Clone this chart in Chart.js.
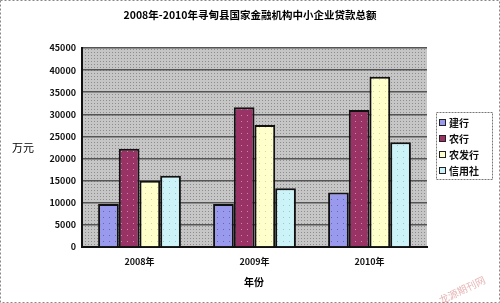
<!DOCTYPE html>
<html>
<head>
<meta charset="utf-8">
<script src="https://cdn.jsdelivr.net/npm/chart.js@4"></script>
<style>
  html, body { margin: 0; padding: 0; background: #fff; }
  #wrap { width: 500px; height: 303px; }
</style>
</head>
<body>
<div id="wrap"><canvas id="chart" width="500" height="303"></canvas></div>
<script>
/* DATA */
const years = ["2008年", "2009年", "2010年"];
const seriesNames = ["建行", "农行", "农发行", "信用社"];
const jianhang = [9700, 9700, 12300];
const nonghang = [22200, 31600, 31000];
const nongfahang = [15000, 27600, 38500];
const xinyongshe = [16100, 13300, 23700];
const yMax = 45000, yStep = 5000;

const titleText = "2008年-2010年寻甸县国家金融机构中小企业贷款总额";
const FONT = "'Noto Sans CJK SC', 'DejaVu Sans', sans-serif";

/* PATTERNS */
function dotPattern(base, dot, step) {
  const c = document.createElement("canvas");
  c.width = step; c.height = step;
  const g = c.getContext("2d");
  g.fillStyle = base;
  g.fillRect(0, 0, step, step);
  g.fillStyle = dot;
  g.fillRect(1, 1, 1, 1);
  return g.createPattern(c, "repeat");
}

const ctx = document.getElementById("chart").getContext("2d");
const colors = ["#9999ee", "#993366", "#ffffcc", "#ccf4f8"];
const dots = ["#6666aa", "#cc88aa", "#d8d8a0", "#9cc8cc"];
const fills = colors.map((c, i) => dotPattern(c, dots[i], 6));
const plotBg = dotPattern("#c6c6c6", "#8c8c8c", 3);

const allValues = [jianhang, nonghang, nongfahang, xinyongshe];

/* PLUGIN: backgrounds, texts, legend */
const decor = {
  id: "decor",
  beforeDraw(chart) {
    const { ctx, chartArea: a } = chart;
    ctx.save();
    ctx.fillStyle = plotBg;
    ctx.fillRect(a.left, a.top, a.right - a.left, a.bottom - a.top);
    ctx.restore();
  },
  afterDraw(chart) {
    const c = chart.ctx;
    c.save();
    // outer dotted border
    c.strokeStyle = "#888";
    c.setLineDash([2, 2]);
    c.lineWidth = 1;
    c.strokeRect(0.5, 0.5, 499, 302);

    // title
    c.setLineDash([]);
    c.fillStyle = "#000";
    c.font = "bold 10.5px " + FONT;
    c.textAlign = "center";
    c.textBaseline = "middle";
    c.fillText(titleText, 250, 15);

    // y title
    c.font = "11px " + FONT;
    c.fillText("万元", 23, 148);

    // x title
    c.font = "bold 10px " + FONT;
    c.fillText("年份", 254, 282);

    // legend
    c.strokeStyle = "#777";
    c.setLineDash([2, 1]);
    c.strokeRect(436.5, 112.5, 56, 67);
    c.setLineDash([]);
    c.textAlign = "left";
    c.font = "bold 10px " + FONT;
    chart.data.datasets.forEach((ds, i) => {
      const y = 123 + i * 16;
      c.fillStyle = colors[i];
      c.fillRect(439, y - 4, 7, 7);
      c.strokeStyle = "#222";
      c.lineWidth = 1;
      c.strokeRect(439.5, y - 3.5, 6, 6);
      c.fillStyle = "#111";
      c.fillText(ds.label, 449, y);
    });

    // watermark
    c.translate(462, 290);
    c.rotate(-0.45);
    c.fillStyle = "rgba(210,120,120,0.55)";
    c.font = "10px " + FONT;
    c.textAlign = "center";
    c.fillText("龙源期刊网", 0, 0);
    c.restore();
  }
};

new Chart(ctx, {
  type: "bar",
  data: {
    labels: years,
    datasets: seriesNames.map((name, i) => ({
      label: name,
      data: allValues[i],
      backgroundColor: fills[i],
      borderColor: "#111",
      borderWidth: 2,
      borderSkipped: "bottom",
      categoryPercentage: 0.72,
      barPercentage: 1
    }))
  },
  options: {
    responsive: false,
    animation: false,
    layout: { padding: { top: 48, right: 73, bottom: 0, left: 0 } },
    plugins: {
      legend: { display: false },
      title: { display: false },
      tooltip: { enabled: false }
    },
    scales: {
      x: {
        grid: { display: false, drawTicks: false },
        border: { color: "#111", width: 2 },
        ticks: {
          color: "#111",
          padding: 9,
          font: { family: FONT, size: 9, weight: "bold" }
        },
        afterFit(s) { s.height = 56; }
      },
      y: {
        min: 0,
        max: yMax,
        grid: { color: "#555", lineWidth: 1.5, drawTicks: false },
        border: { color: "#111", width: 2 },
        ticks: {
          stepSize: yStep,
          color: "#111",
          padding: 6,
          font: { family: FONT, size: 9, weight: "bold" },
          callback: v => String(v)
        },
        afterFit(s) { s.width = 82; }
      }
    }
  },
  plugins: [decor]
});
</script>
</body>
</html>
